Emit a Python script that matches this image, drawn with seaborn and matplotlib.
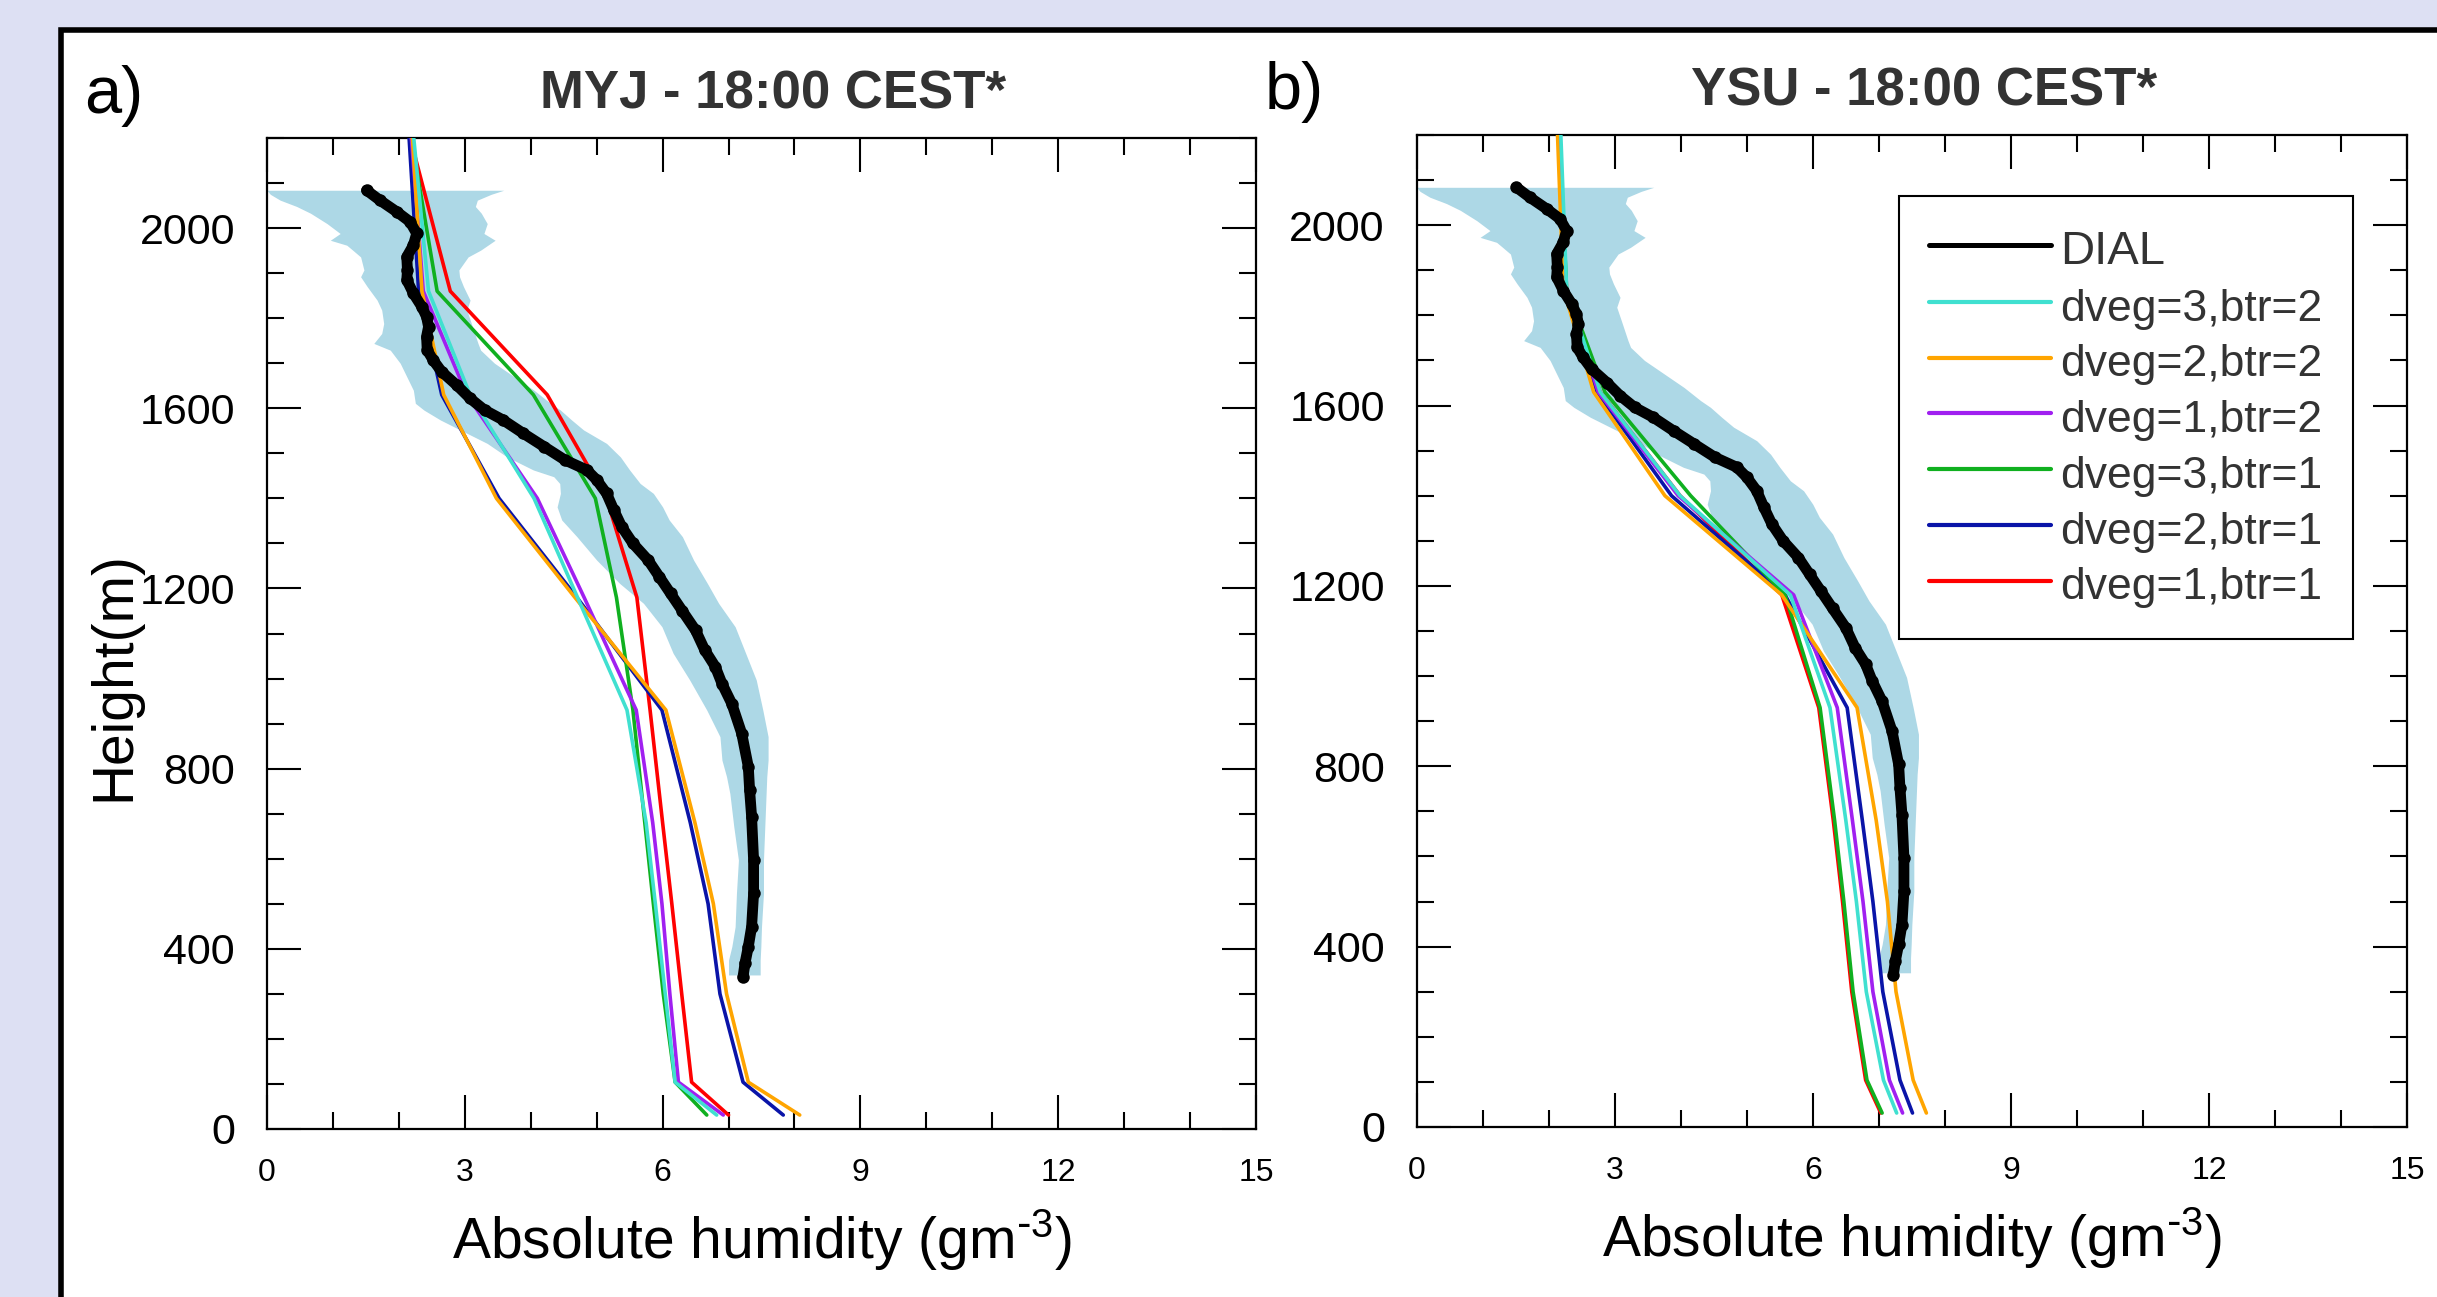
import numpy as np
import pandas as pd
import matplotlib
matplotlib.use('Agg')
import matplotlib.pyplot as plt
import seaborn as sns
from matplotlib.patches import Rectangle
from matplotlib.lines import Line2D
from matplotlib.ticker import MultipleLocator

sns.set_theme(style='ticks')
plt.rcParams['font.family'] = ['Liberation Sans', 'DejaVu Sans']
plt.rcParams['mathtext.default'] = 'regular'

# ---------------- data ----------------
series_names = ['dveg=3,btr=2', 'dveg=2,btr=2', 'dveg=1,btr=2',
                'dveg=3,btr=1', 'dveg=2,btr=1', 'dveg=1,btr=1']
series_colors = ['#40E0D0', '#FFA500', '#A020F0', '#10B020', '#0A14A8', '#FF0000']

model_levels = [31, 104, 300, 500, 680, 930, 1180, 1400, 1630, 1860, 2330]

# MYJ panel
myj_d3b2 = [6.82, 6.19, 6.04, 5.89, 5.75, 5.46, 4.71, 4.05, 3.08, 2.45, 2.14]
myj_d2b2 = [8.08, 7.30, 6.97, 6.77, 6.49, 6.05, 4.67, 3.48, 2.68, 2.35, 2.15]
myj_d1b2 = [6.92, 6.24, 6.11, 5.99, 5.85, 5.60, 4.81, 4.10, 3.03, 2.37, 2.12]
myj_d3b1 = [6.67, 6.19, 6.01, 5.86, 5.73, 5.55, 5.30, 4.98, 4.04, 2.58, 2.04]
myj_d2b1 = [7.83, 7.22, 6.87, 6.69, 6.42, 5.99, 4.70, 3.52, 2.65, 2.30, 2.10]
myj_d1b1 = [7.00, 6.44, 6.29, 6.14, 6.00, 5.81, 5.61, 5.15, 4.25, 2.78, 1.94]

# YSU panel
ysu_d3b2 = [7.27, 7.07, 6.81, 6.66, 6.50, 6.26, 5.66, 3.99, 2.78, 2.27, 2.15]
ysu_d2b2 = [7.72, 7.52, 7.26, 7.13, 6.96, 6.67, 5.53, 3.76, 2.68, 2.22, 2.10]
ysu_d1b2 = [7.36, 7.16, 6.91, 6.76, 6.60, 6.37, 5.71, 3.96, 2.75, 2.25, 2.12]
ysu_d3b1 = [7.05, 6.82, 6.61, 6.47, 6.33, 6.11, 5.58, 4.15, 2.85, 2.27, 2.12]
ysu_d2b1 = [7.51, 7.32, 7.06, 6.91, 6.75, 6.52, 5.58, 3.86, 2.73, 2.24, 2.12]
ysu_d1b1 = [7.03, 6.80, 6.59, 6.45, 6.31, 6.09, 5.53, 3.99, 2.78, 2.26, 2.12]

# DIAL observation
dial_h = [338, 368, 405, 449, 523, 597, 693, 752, 804, 878,
          944, 989, 1026, 1063, 1107, 1150, 1189, 1226, 1263, 1300,
          1337, 1374, 1411, 1441, 1463, 1485, 1515, 1544, 1574, 1596,
          1622, 1651, 1681, 1707, 1729, 1759, 1781, 1803, 1825, 1855,
          1885, 1907, 1936, 1962, 1988, 2014, 2036, 2062, 2084]
dial_x = [7.22, 7.25, 7.30, 7.35, 7.38, 7.38, 7.35, 7.32, 7.30, 7.20,
          7.05, 6.90, 6.80, 6.64, 6.50, 6.30, 6.12, 5.95, 5.78, 5.55,
          5.38, 5.26, 5.15, 5.00, 4.85, 4.52, 4.20, 3.89, 3.58, 3.30,
          3.08, 2.88, 2.65, 2.52, 2.43, 2.42, 2.45, 2.42, 2.35, 2.22,
          2.12, 2.13, 2.12, 2.22, 2.27, 2.17, 1.97, 1.71, 1.51]

# DIAL uncertainty band
band_h = [342, 375, 405, 449, 523, 597, 671, 745, 782, 819,
          871, 930, 997, 1056, 1115, 1167, 1211, 1263, 1315, 1352,
          1381, 1411, 1433, 1448, 1463, 1492, 1522, 1552, 1574, 1596,
          1611, 1640, 1670, 1700, 1729, 1744, 1766, 1788, 1818, 1840,
          1870, 1892, 1907, 1936, 1951, 1962, 1973, 1988, 2010, 2033,
          2048, 2062, 2075, 2084]
band_lo = [7.00, 7.00, 7.05, 7.10, 7.12, 7.15, 7.08, 7.02, 6.97, 6.90,
           6.87, 6.67, 6.41, 6.16, 5.99, 5.71, 5.35, 5.00, 4.70, 4.47,
           4.40, 4.45, 4.44, 4.35, 4.04, 3.64, 3.34, 2.93, 2.63, 2.38,
           2.25, 2.22, 2.12, 2.02, 1.87, 1.62, 1.74, 1.77, 1.74, 1.67,
           1.52, 1.42, 1.47, 1.42, 1.30, 1.21, 0.96, 1.11, 0.91, 0.66,
           0.45, 0.20, 0.05, 0.00]
band_hi = [7.48, 7.48, 7.49, 7.50, 7.53, 7.53, 7.55, 7.57, 7.58, 7.60,
           7.60, 7.52, 7.42, 7.26, 7.10, 6.85, 6.68, 6.47, 6.30, 6.10,
           6.00, 5.86, 5.66, 5.58, 5.50, 5.36, 5.15, 4.80, 4.62, 4.45,
           4.30, 4.05, 3.75, 3.45, 3.24, 3.20, 3.15, 3.10, 3.03, 3.08,
           2.98, 2.92, 2.91, 3.05, 3.24, 3.35, 3.46, 3.29, 3.34, 3.25,
           3.16, 3.19, 3.40, 3.59]

x_ticks = [0, 3, 6, 9, 12, 15]
y_ticks = [0, 400, 800, 1200, 1600, 2000]

panels = [
    dict(title='MYJ - 18:00 CEST*', letter='a)',
         vals=[myj_d3b2, myj_d2b2, myj_d1b2, myj_d3b1, myj_d2b1, myj_d1b1]),
    dict(title='YSU - 18:00 CEST*', letter='b)',
         vals=[ysu_d3b2, ysu_d2b2, ysu_d1b2, ysu_d3b1, ysu_d2b1, ysu_d1b1]),
]

# ---------------- figure ----------------
W, H = 2437, 1297
fig = plt.figure(figsize=(W / 100, H / 100), dpi=100)
fig.patch.set_facecolor('#dde0f3')
fig.add_artist(Rectangle((61 / W, -0.2), 1.5, (H - 29.5) / H + 0.2,
                         transform=fig.transFigure, facecolor='white',
                         edgecolor='black', linewidth=4, zorder=0))

axA = fig.add_axes([267 / W, 168 / H, 989 / W, 991 / H])
axB = fig.add_axes([1416.7 / W, 170 / H, 990.3 / W, 992 / H])
letter_pos = [(84 / W, 1 - 113 / H), (1265 / W, 1 - 109 / H)]

for ax, p, lp in zip([axA, axB], panels, letter_pos):
    ax.set_facecolor('white')
    ax.fill_betweenx(band_h, band_lo, band_hi, color='#add8e6', lw=0, zorder=1)
    for name, col, v in reversed(list(zip(series_names, series_colors, p['vals']))):
        df = pd.DataFrame({'x': v, 'y': model_levels})
        sns.lineplot(data=df, x='x', y='y', ax=ax, sort=False, estimator=None,
                     color=col, linewidth=2.6, zorder=3, legend=False)
    ddf = pd.DataFrame({'x': dial_x, 'y': dial_h})
    sns.lineplot(data=ddf, x='x', y='y', ax=ax, sort=False, estimator=None,
                 color='black', linewidth=7.8, marker='o', markersize=9,
                 markeredgewidth=0, zorder=4, legend=False)

    ax.set_xlim(0, 15)
    ax.set_ylim(0, 2200)
    ax.set_xticks(x_ticks)
    ax.set_yticks(y_ticks)
    ax.xaxis.set_minor_locator(MultipleLocator(1))
    ax.yaxis.set_minor_locator(MultipleLocator(100))
    ax.tick_params(which='both', direction='in', top=True, right=True,
                   width=1.5, color='black', labelcolor='black')
    ax.tick_params(which='major', length=24.5)
    ax.tick_params(which='minor', length=12)
    ax.tick_params(axis='x', labelsize=23, pad=21)
    ax.tick_params(axis='y', labelsize=31, pad=23)
    for s in ax.spines.values():
        s.set_linewidth(1.6)
        s.set_color('black')

    ax.set_title(p['title'], fontsize=38, fontweight='bold', color='#333333',
                 pad=21, x=0.512)
    ax.set_xlabel('Absolute humidity (gm$^{\\text{-}3}$)', fontsize=41, color='black')
    ax.xaxis.set_label_coords(0.5, -0.112)
    ax.xaxis.label.set_va('center')
    ax.set_ylabel('')
    fig.text(lp[0], lp[1], p['letter'], fontsize=48, ha='left', va='baseline',
             color='black')

axA.set_ylabel('Height(m)', fontsize=41, color='black')
axA.yaxis.set_label_coords(-0.1547, 0.457)
axA.yaxis.label.set_va('center')

handles = [Line2D([], [], color='black', lw=3.6)] + \
          [Line2D([], [], color=c, lw=3.0) for c in series_colors]
labels = ['DIAL'] + series_names
leg = axB.legend(handles, labels, loc='upper left', bbox_to_anchor=(0.487, 0.9385),
                 fontsize=32, frameon=True, fancybox=False, edgecolor='black',
                 framealpha=1, borderpad=0.68, handlelength=2.75, handleheight=1.19,
                 handletextpad=0.2, labelspacing=0.205, borderaxespad=0)
leg.get_frame().set_linewidth(1.5)
for t in leg.get_texts():
    t.set_color('#333333')
leg.get_texts()[0].set_fontsize(34)

fig.savefig('out.png', dpi=100, facecolor=fig.get_facecolor())
